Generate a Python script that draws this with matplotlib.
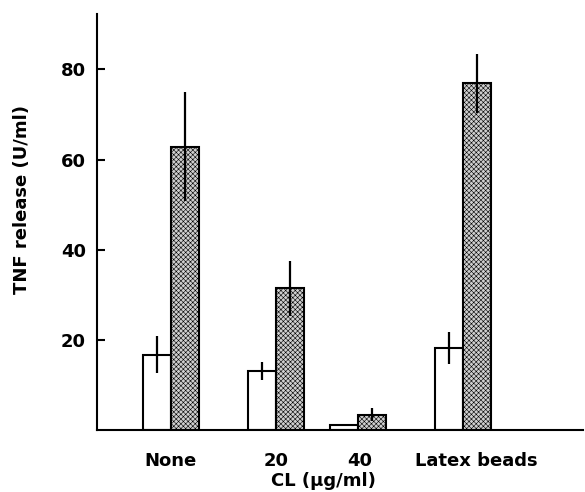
import matplotlib
matplotlib.use("Agg")
import matplotlib.pyplot as plt

# data (TNF release, U/ml)
groups = ["None", "20", "40", "Latex beads"]
control = [16.7, 13.0, 1.0, 18.2]
control_err = [4.1, 2.0, 0.0, 3.5]
treated = [62.9, 31.4, 3.4, 76.9]
treated_err = [12.0, 6.0, 1.5, 6.5]

# layout (x in axis pixel units)
centers = [74, 179, 261, 366]
label_x = [74, 179, 263, 379]
width = 28

plt.rcParams['font.family'] = ['DejaVu Sans']
plt.rcParams['font.weight'] = 'bold'
plt.rcParams['hatch.color'] = '#4a4a4a'
plt.rcParams['hatch.linewidth'] = 0.4

fig = plt.figure(figsize=(5.85, 4.92), dpi=100)
ax = fig.add_axes([97/585, 62/492, 486/585, 416/492])

xl = [c - width/2 for c in centers]
xr = [c + width/2 for c in centers]

ax.bar(xl, control, width=width, color='white', edgecolor='black', linewidth=1.5, zorder=2)
ax.bar(xr, treated, width=width, color='#cfcfcf', edgecolor='black', linewidth=1.5,
       hatch='xxxxxxx', zorder=2)
ax.errorbar(xl, control, yerr=control_err, fmt='none', ecolor='black', elinewidth=1.6,
            capsize=0, zorder=3)
ax.errorbar(xr, treated, yerr=treated_err, fmt='none', ecolor='black', elinewidth=1.6,
            capsize=0, zorder=3)

ax.set_xlim(0, 486)
ax.set_ylim(0, 92.3)
ax.spines['top'].set_visible(False)
ax.spines['right'].set_visible(False)
ax.spines['left'].set_linewidth(1.5)
ax.spines['bottom'].set_linewidth(1.5)

ax.set_yticks([20, 40, 60, 80])
ax.set_yticklabels(['20', '40', '60', '80'], fontsize=13, fontweight='bold')
ax.tick_params(axis='y', direction='in', length=6, width=1.5, pad=8)

ax.set_xticks(label_x)
ax.set_xticklabels(groups, fontsize=13, fontweight='bold')
ax.tick_params(axis='x', length=0, pad=16)

ax.set_ylabel('TNF release (U/ml)', fontsize=13, fontweight='bold')
ax.yaxis.set_label_coords(-0.135, 0.555)
fig.text(323/585, 1 - 481/492, 'CL (\u03bcg/ml)', ha='center', va='center',
         fontsize=13, fontweight='bold')

fig.savefig('out.png', dpi=100)
